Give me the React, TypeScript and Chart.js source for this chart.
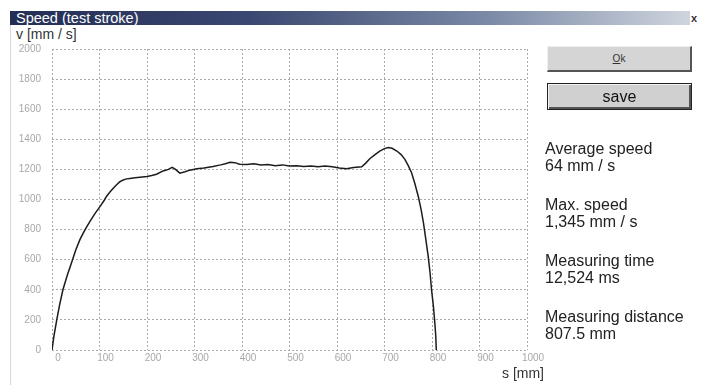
import React, { useEffect, useRef } from "react";
import { Chart, registerables } from "chart.js";

Chart.register(...registerables);

const distanceMm: number[] = [
  0, 4, 10, 16, 23, 32, 42, 50, 59, 66, 73, 80, 90, 101, 110, 115, 122, 130, 136, 143,
  150, 157, 164, 175, 185, 200, 210, 220, 234, 245, 253, 260, 269, 280, 290, 305, 320, 339,
  355, 365, 375, 385, 395, 410, 425, 440, 455, 470, 485, 500, 515, 530, 545, 560, 575, 590,
  605, 620, 635, 652, 660, 669, 680, 690, 700, 708, 716, 726, 735, 743, 750, 757, 764, 771,
  777, 782, 787, 792, 796, 799, 803, 806, 808, 809,
];
const speedMmS: number[] = [
  0, 90, 200, 300, 400, 495, 588, 665, 735, 778, 818, 855, 905, 953, 995, 1022, 1050, 1078, 1098, 1118,
  1130, 1137, 1140, 1145, 1148, 1153, 1160, 1168, 1190, 1200, 1213, 1200, 1175, 1185, 1195, 1205, 1210, 1220,
  1230, 1238, 1247, 1245, 1235, 1232, 1238, 1230, 1232, 1225, 1230, 1222, 1225, 1220, 1222, 1218, 1223, 1218,
  1210, 1205, 1212, 1218, 1240, 1271, 1298, 1322, 1338, 1345, 1340, 1322, 1298, 1267, 1225, 1178, 1105, 1022,
  935, 844, 735, 622, 510, 400, 290, 178, 90, 0,
];

const xTicks = { min: 0, max: 1000, step: 100 };
const yTicks = { min: 0, max: 2000, step: 200 };

const title = "Speed (test stroke)";
const yAxisTitle = "v [mm / s]";
const xAxisTitle = "s [mm]";
const stats: [string, string][] = [
  ["Average speed", "64 mm / s"],
  ["Max. speed", "1,345 mm / s"],
  ["Measuring time", "12,524 ms"],
  ["Measuring distance", "807.5 mm"],
];

const FONT = "'Liberation Sans', Arial, Helvetica, sans-serif";

export default function App() {
  const canvasRef = useRef<HTMLCanvasElement | null>(null);

  useEffect(() => {
    if (!canvasRef.current) return;
    const points = distanceMm.map((s, i) => ({ x: s, y: speedMmS[i] }));
    const chart = new Chart(canvasRef.current, {
      type: "line",
      data: {
        datasets: [
          {
            data: points,
            borderColor: "#1c1c1c",
            borderWidth: 1.5,
            pointRadius: 0,
            tension: 0,
            fill: false,
          },
        ],
      },
      options: {
        animation: false,
        responsive: false,
        maintainAspectRatio: false,
        layout: { padding: { left: 0, top: 49, right: 33, bottom: 0 } },
        plugins: { legend: { display: false }, tooltip: { enabled: false } },
        scales: {
          x: {
            type: "linear",
            min: xTicks.min,
            max: xTicks.max,
            afterFit: (scale: any) => {
              scale.height = 35;
            },
            ticks: {
              stepSize: xTicks.step,
              color: "#a8a8a8",
              font: { family: FONT, size: 10 },
              padding: 2,
              labelOffset: 6,
              maxRotation: 0,
              autoSkip: false,
              callback: (v: any) => String(v),
            },
            grid: { color: "#aaaaaa", lineWidth: 1, drawTicks: false },
            border: { display: false, dash: [2, 2] },
          },
          y: {
            type: "linear",
            min: yTicks.min,
            max: yTicks.max,
            afterFit: (scale: any) => {
              scale.width = 52;
            },
            ticks: {
              stepSize: yTicks.step,
              color: "#a8a8a8",
              font: { family: FONT, size: 10 },
              padding: 11,
              autoSkip: false,
              callback: (v: any) => String(v),
            },
            grid: { color: "#aaaaaa", lineWidth: 1, drawTicks: false },
            border: { display: false, dash: [2, 2] },
          },
        },
      },
    });
    return () => chart.destroy();
  }, []);

  const abs = (s: React.CSSProperties): React.CSSProperties => ({ position: "absolute", ...s });

  return (
    <div
      style={{
        position: "absolute",
        left: 0,
        top: 0,
        width: 701,
        height: 385,
        background: "#ffffff",
        overflow: "hidden",
        fontFamily: FONT,
      }}
    >
      <div style={abs({ left: 10, top: 25, width: 1, height: 360, background: "#d8d8d8" })} />
      <div
        style={abs({
          left: 10,
          top: 11,
          width: 680,
          height: 14,
          background: "linear-gradient(to right, #232d55 0%, #3a4770 35%, #7a89a6 70%, #cfd5de 100%)",
        })}
      />
      <div
        style={abs({
          left: 16,
          top: 10,
          color: "#ffffff",
          fontSize: 14.5,
          lineHeight: "16px",
          whiteSpace: "nowrap",
        })}
      >
        {title}
      </div>
      <div style={abs({ left: 691, top: 11, fontSize: 11, fontWeight: "bold", color: "#333", lineHeight: "14px" })}>x</div>
      <div style={abs({ left: 16, top: 26, fontSize: 14, lineHeight: "16px", color: "#333", whiteSpace: "nowrap" })}>
        {yAxisTitle}
      </div>
      <canvas ref={canvasRef} width={560} height={385} style={abs({ left: 0, top: 0, width: 560, height: 385 })} />
      <div style={abs({ left: 502, top: 365, fontSize: 14, lineHeight: "16px", color: "#333", whiteSpace: "nowrap" })}>
        {xAxisTitle}
      </div>
      <div
        style={abs({
          left: 547,
          top: 46,
          width: 145,
          height: 26,
          boxSizing: "border-box",
          background: "#d5d5d5",
          borderTop: "1px solid #eeeeee",
          borderLeft: "1px solid #eeeeee",
          borderRight: "2px solid #555555",
          borderBottom: "2px solid #555555",
          display: "flex",
          alignItems: "center",
          justifyContent: "center",
          fontSize: 10,
          color: "#333",
        })}
      >
        <span>
          <span style={{ textDecoration: "underline" }}>O</span>k
        </span>
      </div>
      <div
        style={abs({
          left: 547,
          top: 83,
          width: 145,
          height: 27,
          boxSizing: "border-box",
          background: "#d0d0d0",
          border: "1px solid #222222",
          boxShadow: "inset 1px 1px 0 #f4f4f4, inset -2px -2px 0 #555555",
          display: "flex",
          alignItems: "center",
          justifyContent: "center",
          fontSize: 16,
          color: "#111",
        })}
      >
        save
      </div>
      {stats.map(([label, value], i) => (
        <div
          key={label}
          style={abs({
            left: 545,
            top: 140 + i * 56,
            fontSize: 16,
            lineHeight: "17px",
            color: "#222",
            whiteSpace: "nowrap",
          })}
        >
          <div>{label}</div>
          <div>{value}</div>
        </div>
      ))}
    </div>
  );
}
